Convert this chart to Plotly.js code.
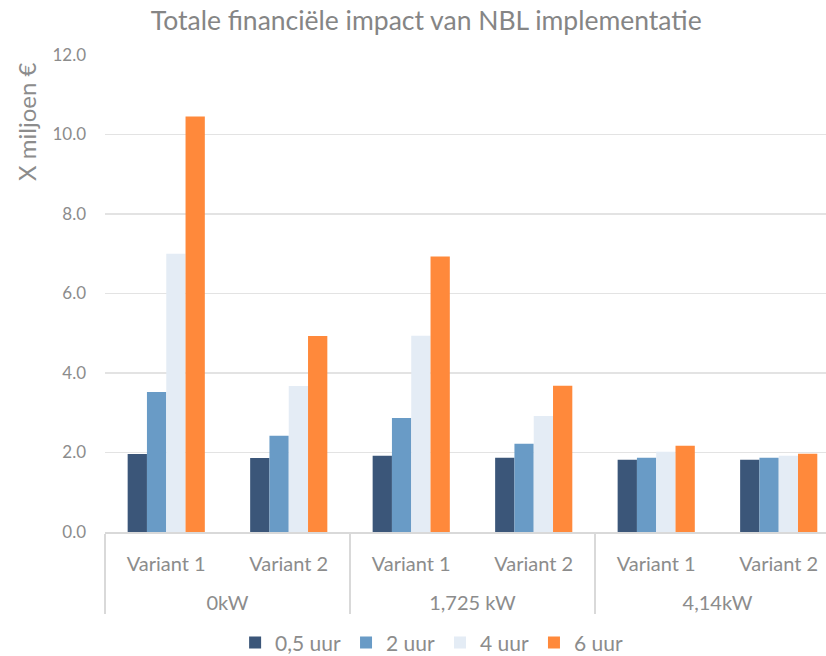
<!DOCTYPE html>
<html>
<head>
<meta charset="utf-8">
<script src="https://cdn.plot.ly/plotly-3.0.1.min.js"></script>
<style>
  body { margin: 0; background: #fff; }
  #chart { width: 826px; height: 656px; }
</style>
</head>
<body>
<div id="chart"></div>
<script>
// Categorieën (twee niveaus)
var groups = ['0kW', '0kW', '1,725 kW', '1,725 kW', '4,14kW', '4,14kW'];
var variants = ['Variant 1', 'Variant 2', 'Variant 1', 'Variant 2', 'Variant 1', 'Variant 2'];

// Waarden in miljoen euro
var uur05 = [1.96, 1.86, 1.92, 1.87, 1.82, 1.82];
var uur2 = [3.52, 2.42, 2.87, 2.22, 1.87, 1.87];
var uur4 = [7.0, 3.67, 4.94, 2.92, 2.02, 1.92];
var uur6 = [10.45, 4.93, 6.93, 3.68, 2.17, 1.97];

var seriesNames = ['0,5 uur', '2 uur', '4 uur', '6 uur'];
var seriesValues = [uur05, uur2, uur4, uur6];
var colors = ['#3b5679', '#699bc6', '#e4ecf5', '#ff893b'];

// groepslabels een regel lager zetten
var groupLabels = groups.map(function (g) { return '<br>' + g; });

var data = seriesNames.map(function (name, i) {
  return {
    x: [groupLabels, variants],
    y: seriesValues[i],
    name: name,
    type: 'bar',
    marker: { color: colors[i] },
    hoverinfo: 'y+name'
  };
});

var grey = '#8c8c8c';

var layout = {
  width: 826,
  height: 656,
  margin: { l: 105, r: 0, t: 55, b: 124 },
  paper_bgcolor: '#ffffff',
  plot_bgcolor: '#ffffff',
  font: { family: 'Lato, "Open Sans", sans-serif', color: grey, size: 20 },
  title: {
    text: 'Totale financiële impact van NBL implementatie',
    font: { size: 26.5, color: '#858585' },
    x: 0.516,
    xref: 'container',
    xanchor: 'center',
    y: 0.968,
    yref: 'container',
    yanchor: 'middle'
  },
  barmode: 'group',
  bargap: 0.37,
  bargroupgap: 0,
  xaxis: {
    type: 'multicategory',
    range: [-0.5, 5.386],
    automargin: false,
    showgrid: false,
    showline: true,
    linecolor: '#d9d9d9',
    linewidth: 1.5,
    ticks: '',
    ticklabelstandoff: 13,
    showdividers: true,
    dividercolor: '#d9d9d9',
    dividerwidth: 1.5,
    tickfont: { size: 20, color: grey }
  },
  yaxis: {
    range: [0, 12],
    dtick: 2,
    tickformat: '.1f',
    automargin: false,
    showgrid: true,
    gridcolor: '#e3e3e3',
    gridwidth: 1.5,
    zeroline: false,
    showline: false,
    ticks: '',
    ticklabelstandoff: 18,
    tickfont: { size: 17, color: grey }
  },
  annotations: [{
    text: 'X miljoen €',
    xref: 'paper',
    yref: 'paper',
    x: -0.108,
    y: 0.86,
    xanchor: 'center',
    yanchor: 'middle',
    textangle: -90,
    showarrow: false,
    font: { size: 24, color: grey }
  }],
  showlegend: true,
  legend: {
    orientation: 'h',
    x: 0.453,
    xanchor: 'center',
    yref: 'container',
    y: 0.02,
    yanchor: 'middle',
    font: { size: 21, color: grey },
    itemwidth: 30,
    traceorder: 'normal'
  }
};

Plotly.newPlot('chart', data, layout, { displayModeBar: false, staticPlot: true });
</script>
</body>
</html>
